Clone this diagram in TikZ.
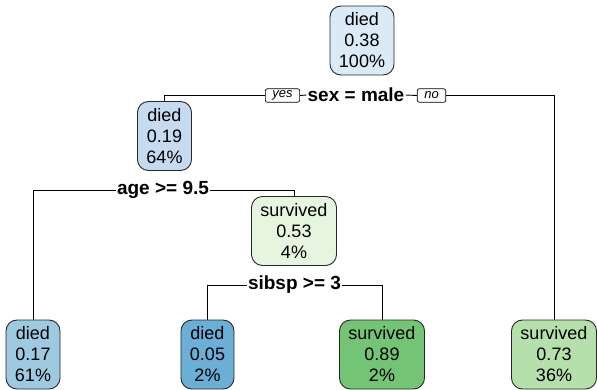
\documentclass[tikz,border=0pt]{standalone}
\usepackage{fontspec}
\setmainfont{Liberation Sans}
\usepackage{tikz}
\usetikzlibrary{calc}

\definecolor{blueA}{HTML}{DCE9F6}
\definecolor{blueB}{HTML}{C6DBEF}
\definecolor{blueC}{HTML}{9ECAE1}
\definecolor{blueD}{HTML}{6BAED6}
\definecolor{greenA}{HTML}{E5F5E0}
\definecolor{greenB}{HTML}{B5E0AB}
\definecolor{greenC}{HTML}{74C476}

\begin{document}
\begin{tikzpicture}[x=1pt,y=-1pt,
	leaf/.style={draw=black!85, line width=0.9pt, rounded corners=11pt, align=center,
		inner xsep=9pt, minimum height=69pt, font=\fontsize{18}{21}\selectfont},
	split/.style={inner sep=1pt, font=\fontsize{19}{21}\selectfont\bfseries},
	yesno/.style={draw, fill=white, line width=0.7pt, rounded corners=2pt, inner xsep=7pt,
		inner ysep=0pt, minimum height=13.5pt, font=\fontsize{13}{13}\selectfont\itshape}]
	\useasboundingbox (0,0) rectangle (597,389);
	
	% boxes
	\node[leaf, fill=blueA] (root) at (362,40.5) {died\\0.38\\100\%};
	\node[leaf, fill=blueB] (male) at (164.5,136) {died\\0.19\\64\%};
	\node[leaf, fill=greenA] (young) at (294,231) {survived\\0.53\\4\%};
	\node[leaf, fill=blueC] (old) at (33,354.5) {died\\0.17\\61\%};
	\node[leaf, fill=blueD] (sib) at (207.5,354.5) {died\\0.05\\2\%};
	\node[leaf, fill=greenC] (nosib) at (382,354.5) {survived\\0.89\\2\%};
	\node[leaf, fill=greenB] (female) at (554,354.5) {survived\\0.73\\36\%};
	
	% split labels
	\node[split] (sex) at (356,95) {sex = male};
	\node[yesno] (yes) at (282.5,95.5) {yes};
	\node[yesno] (no) at (431.5,95.5) {no};
	\node[split] (age) at (163,190) {age >= 9.5};
	\node[split] (sibsp) at (294.5,285) {sibsp >= 3};
	
	% branches
	\draw[line width=0.9pt] (yes.west) -| (male.north);
	\draw[line width=0.9pt] (yes.east) -- (sex.west);
	\draw[line width=0.9pt] (sex.east) -- (no.west);
	\draw[line width=0.9pt] (no.east) -| (female.north);
	\draw[line width=0.9pt] (age.west) -| (old.north);
	\draw[line width=0.9pt] (age.east) -| (young.north);
	\draw[line width=0.9pt] (sibsp.west) -| (sib.north);
	\draw[line width=0.9pt] (sibsp.east) -| (nosib.north);
\end{tikzpicture}
\end{document}
